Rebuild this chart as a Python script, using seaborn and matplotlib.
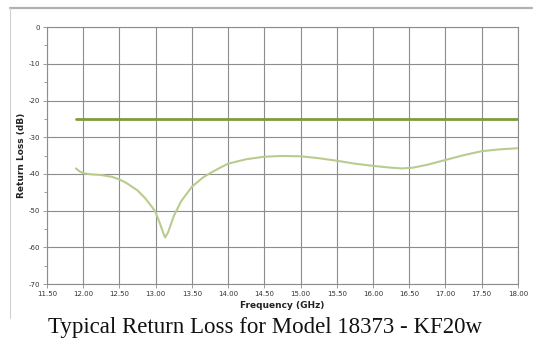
import matplotlib
matplotlib.use("Agg")
import matplotlib.pyplot as plt
import seaborn as sns
import pandas as pd
from matplotlib.lines import Line2D
from matplotlib.ticker import MultipleLocator

freq = [11.90, 11.95, 12.00, 12.10, 12.25, 12.40, 12.50, 12.60, 12.75, 12.85, 12.95, 13.00,
        13.05, 13.10, 13.13, 13.17, 13.25, 13.35, 13.50, 13.65, 13.75, 13.90, 14.00, 14.25,
        14.50, 14.75, 15.00, 15.25, 15.50, 15.75, 16.00, 16.25, 16.40, 16.55, 16.75, 17.00,
        17.25, 17.50, 17.75, 18.00]
return_loss = [-38.5, -39.3, -39.8, -40.1, -40.3, -40.8, -41.5, -42.5, -44.5, -46.5, -49.0, -50.5,
               -53.0, -55.8, -57.3, -56.0, -51.5, -47.5, -43.5, -41.0, -39.8, -38.2, -37.2, -36.0,
               -35.3, -35.1, -35.2, -35.7, -36.4, -37.2, -37.8, -38.3, -38.5, -38.3, -37.5, -36.2,
               -34.9, -33.8, -33.3, -33.0]
limit_freq = [11.90, 18.00]
limit_value = [-25.0, -25.0]

x_ticks = [11.5, 12.0, 12.5, 13.0, 13.5, 14.0, 14.5, 15.0, 15.5, 16.0, 16.5, 17.0, 17.5, 18.0]
y_ticks = [0, -10, -20, -30, -40, -50, -60, -70]

title = "Typical Return Loss for Model 18373 - KF20w"

sns.set_style("white")
fig = plt.figure(figsize=(5.4, 3.52), dpi=100)
ax = fig.add_axes([0.087, 0.193, 0.872, 0.730])

df = pd.DataFrame({"freq": freq, "rl": return_loss})
lim = pd.DataFrame({"freq": limit_freq, "rl": limit_value})

sns.lineplot(data=lim, x="freq", y="rl", ax=ax, color="#7f9c3c", linewidth=2.0, zorder=3)
sns.lineplot(data=df, x="freq", y="rl", ax=ax, color="#b9cc8f", linewidth=1.5, zorder=3)

ax.set_xlim(11.5, 18.0)
ax.set_ylim(-70, 0)
ax.set_xticks(x_ticks)
ax.set_xticklabels([f"{t:.2f}" for t in x_ticks])
ax.set_yticks(y_ticks)
ax.set_yticklabels([str(t) for t in y_ticks])
ax.yaxis.set_minor_locator(MultipleLocator(5))
ax.grid(True, which="major", color="#8c8c8c", linewidth=0.8)
ax.set_axisbelow(True)
for s in ["top", "right", "left", "bottom"]:
    ax.spines[s].set_visible(True)
    ax.spines[s].set_color("#8c8c8c")
    ax.spines[s].set_linewidth(0.8)
ax.tick_params(axis="both", which="major", labelsize=5, colors="#333333", length=3,
               width=0.6, direction="out", left=True, bottom=True, pad=2)
ax.tick_params(axis="y", which="minor", length=2, width=0.6, color="#8c8c8c", left=True)
ax.tick_params(axis="x", which="major", color="#8c8c8c")
ax.tick_params(axis="y", which="major", color="#8c8c8c")
ax.set_xlabel("Frequency (GHz)", fontsize=6.5, fontweight="bold", labelpad=3, color="#222222")
ax.set_ylabel("Return Loss (dB)", fontsize=6.5, fontweight="bold", labelpad=2, color="#222222")

fig.add_artist(Line2D([0.0185, 0.985], [0.977, 0.977], transform=fig.transFigure,
                      color="#b0b0b0", linewidth=1.6))
fig.add_artist(Line2D([0.0185, 0.0185], [0.977, 0.097], transform=fig.transFigure,
                      color="#d0d0d0", linewidth=0.8))

fig.text(0.49, 0.071, title, ha="center", va="center", fontsize=16.5,
         family=["Liberation Serif", "DejaVu Serif"], color="#111111")

fig.savefig("out.png", dpi=100)
